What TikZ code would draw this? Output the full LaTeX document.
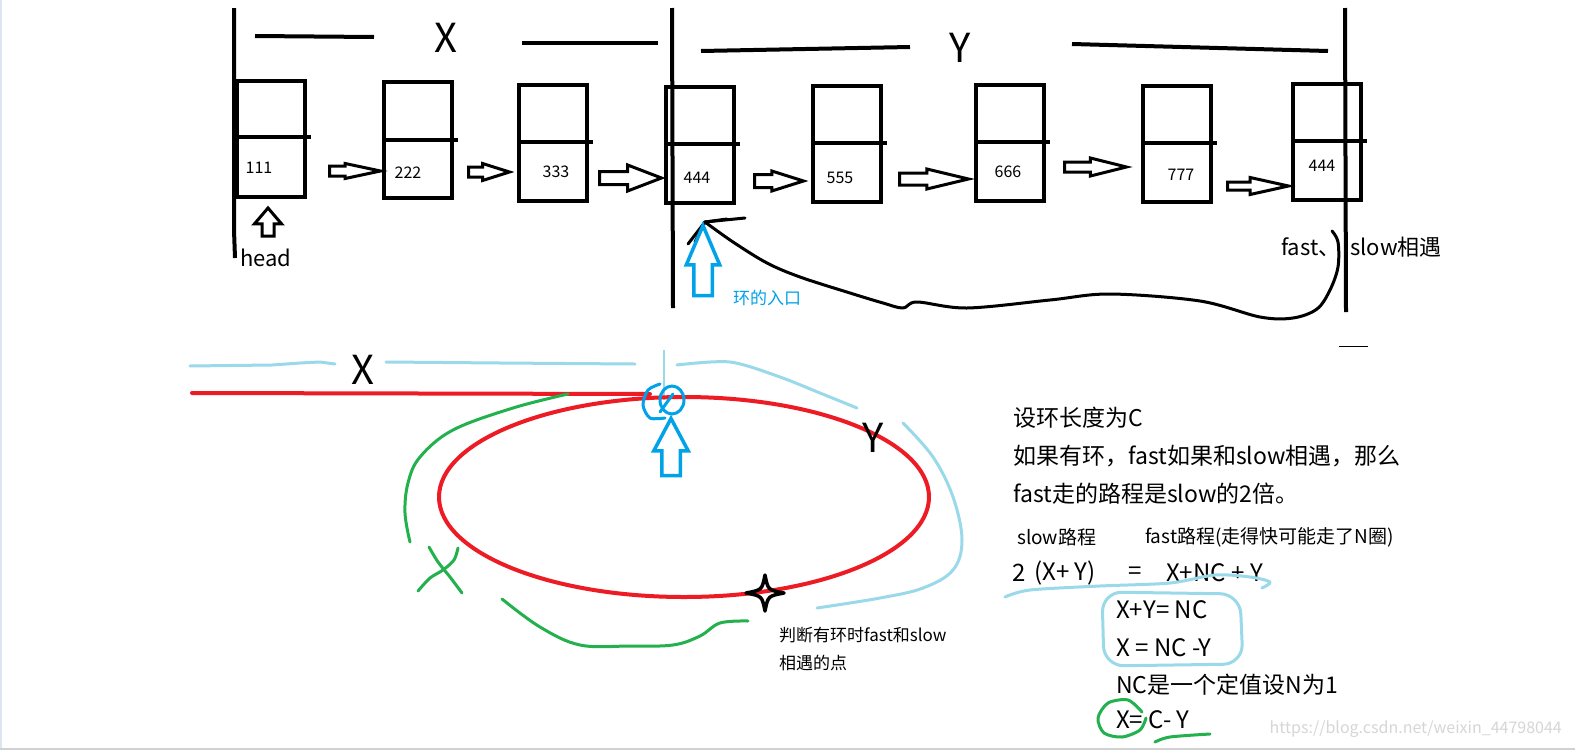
\documentclass[tikz,border=0pt]{standalone}
\usepackage{fontspec}
\setmainfont{Noto Sans CJK SC}
\usetikzlibrary{shapes.geometric,shapes.arrows}
\definecolor{pred}{HTML}{ED1C24}
\definecolor{pgreen}{HTML}{22B14C}
\definecolor{pblue}{HTML}{00A2E8}
\definecolor{plblue}{HTML}{99D9EA}
\definecolor{wmark}{HTML}{D6D6D6}
\definecolor{edgel}{HTML}{DCE6F2}
\newcommand\myfs[1]{\fontsize{#1}{#1}\selectfont}
\newcommand\harrow[9]{%
  \node[harrowst, #9, minimum height=#4pt, inner sep={#5*0.5pt},
        single arrow head extend={(#6-#5)*0.5pt}, single arrow tip angle=#7,
        shape border rotate=#8, anchor=tail] (#1) at (#2,#3) {};}
\tikzset{
  listbox/.style={draw, line width=4pt, inner sep=0pt, minimum width=68pt, minimum height=116pt},
  divider/.style={line width=4pt},
  numtxt/.style={font=\myfs{16}, inner sep=0pt},
  harrowst/.style={single arrow, draw, line width=3pt, outer sep=0pt},
  bigtxt/.style={font=\myfs{40}, inner sep=0pt},
  midtxt/.style={font=\myfs{22}, inner sep=0pt, anchor=west},
  rtxt/.style={font=\myfs{23}, inner sep=0pt, anchor=west},
  smalltxt/.style={font=\myfs{17}, inner sep=0pt, anchor=west},
  eqtxt/.style={font=\myfs{24}, inner sep=0pt, anchor=west},
  blk/.style={line width=4pt},
  loopline/.style={line width=3pt, line cap=round, line join=round},
  redl/.style={pred, line width=4pt, line cap=round},
  lbl/.style={plblue, line width=3pt, line cap=round, line join=round},
  grn/.style={pgreen, line width=3pt, line cap=round, line join=round},
}
\begin{document}
\begin{tikzpicture}[x=1pt,y=-1pt]
\useasboundingbox (0,0) rectangle (1575,750);
\fill[white] (0,0) rectangle (1575,750);
\fill[edgel] (0,0) rectangle (2,750);
\fill[black!18] (0,748) rectangle (1575,750);

% ---------- top: section markers ----------
\draw[blk] (234,8) -- (234,230) -- (235,258);
\draw[blk] (672,8) -- (673,308);
\draw[blk] (1345,8) -- (1346,312);
\draw[blk] (255,36) -- (374,37);
\draw[blk] (522,43) -- (658,43);
\draw[blk] (701,51) -- (910,47);
\draw[blk] (1072,44) -- (1328,51);
\node[bigtxt] (xtop) at (446,38) {X};
\node[bigtxt] (ytop) at (960,48) {Y};
\draw[line width=1pt] (1339,346) -- (1368,346);

% ---------- list nodes ----------
\node[listbox] (b1) at (271,139) {};
\node[listbox] (b2) at (418,140) {};
\node[listbox] (b3) at (553,143) {};
\node[listbox] (b4) at (700,145) {};
\node[listbox] (b5) at (847,143.5) {};
\node[listbox] (b6) at (1010,142.5) {};
\node[listbox] (b7) at (1177,143.5) {};
\node[listbox] (b8) at (1327,141.5) {};
\draw[divider] (b1.west |- 0,137) -- ([xshift=4pt]b1.east |- 0,137);
\draw[divider] (b2.west |- 0,140) -- ([xshift=4pt]b2.east |- 0,140);
\draw[divider] (b3.west |- 0,142) -- ([xshift=4pt]b3.east |- 0,142);
\draw[divider] (b4.west |- 0,144) -- ([xshift=4pt]b4.east |- 0,144);
\draw[divider] (b5.west |- 0,143) -- ([xshift=4pt]b5.east |- 0,143);
\draw[divider] (b6.west |- 0,142) -- ([xshift=4pt]b6.east |- 0,142);
\draw[divider] (b7.west |- 0,143) -- ([xshift=4pt]b7.east |- 0,143);
\draw[divider] (b8.west |- 0,141) -- ([xshift=4pt]b8.east |- 0,141);
\node[numtxt] (t1) at (259,168) {111};
\node[numtxt] (t2) at (408,173) {222};
\node[numtxt] (t3) at (556,172) {333};
\node[numtxt] (t4) at (697,178) {444};
\node[numtxt] (t5) at (840,178) {555};
\node[numtxt] (t6) at (1008,172) {666};
\node[numtxt] (t7) at (1181,175) {777};
\node[numtxt] (t8) at (1322,166) {444};

% ---------- hollow arrows between nodes ----------
\harrow{a1}{329.5}{171}{51}{7}{12}{24}{0}{}
\harrow{a2}{468.5}{172}{41}{7}{14}{35}{0}{}
\harrow{a3}{599.5}{178}{62}{10}{23}{42}{0}{}
\harrow{a4}{754.5}{181}{49}{10}{17}{35}{0}{}
\harrow{a5}{899.5}{179}{69}{9}{17}{27}{0}{}
\harrow{a6}{1064.5}{167}{62}{7}{15}{28}{0}{}
\harrow{a7}{1227.5}{186}{61}{5}{14}{25}{0}{}
\harrow{ahead}{268}{236}{28}{9}{24}{81}{90}{}
\node[midtxt] (headt) at (240,258) {head};

% ---------- loop back ----------
\coordinate (lstart) at (1332,231);
\coordinate (lend) at (705,222);
\draw[loopline] plot[smooth, tension=0.55] coordinates {(lstart) (1338,242) (1338,267) (1330,290) (1317,309) (1293,318) (1260,317) (1200,301) (1110,294) (1050,300) (967,308) (917,302) (903,308) (883,303) (850,293) (800,277) (767,263) (733,242) (lend)};
\draw[loopline] (lend) -- ++(40,-4);
\draw[loopline] (lend) -- ++(-17,22);
\draw[loopline] (lend) -- ++(-10,20);
\draw[loopline] (lend) -- ++(22,-3);
\harrow{aentry}{703}{295.5}{70}{15}{30}{46}{90}{draw=pblue, line width=3.5pt}
\node[smalltxt, text=pblue] (entryt) at (733,298) {环的入口};
\node[midtxt] (meet1) at (1281,247) {fast、};
\node[midtxt] (meet2) at (1350,247) {slow相遇};

% ---------- bottom: ring ----------
\draw[lbl] (190,366) -- (272,365) -- (300,363) -- (320,362) -- (335,364);
\draw[lbl] (386,362) -- (500,363) -- (635,364);
\node[bigtxt] (xbot) at (363,370) {X};
\draw[plblue, line width=2.5pt] (664,350) -- (664,400);
\node[ellipse, draw=pred, line width=4pt, minimum width=490pt, minimum height=200pt, inner sep=0pt] (ring) at (684,497) {};
\coordinate (tailstart) at (192,393);
\draw[redl] (tailstart) -- (650,394);
\draw[lbl] plot[smooth] coordinates {(677,365) (730,362) (780,377) (820,393) (857,408)};
\node[bigtxt] (ybot) at (873,438) {Y};
\draw[lbl] plot[smooth, tension=0.6] coordinates {(903,423) (933,457) (953,497) (962,540) (953,570) (923,588) (880,598) (817,608)};
% green X path
\draw[grn] plot[smooth, tension=0.6] coordinates {(568,394) (513,408) (453,430) (420,457) (408,483) (405,513) (410,542)};
\draw[grn] plot[smooth] coordinates {(429,547) (438,562) (450,577) (462,593)};
\draw[grn] plot[smooth] coordinates {(458,548) (454,560) (443,570) (430,578) (418,591)};
\draw[grn] plot[smooth, tension=0.6] coordinates {(502,599) (540,627) (580,645) (630,646) (673,645) (700,636) (720,623) (748,621)};
% blue scribble + entry arrow
\draw[pblue, line width=3pt] (672,400) ellipse [x radius=12, y radius=14];
\draw[pblue, line width=3pt, line cap=round] plot[smooth] coordinates {(660,384) (648,390) (643,405) (650,418) (665,418)};
\draw[pblue, line width=3pt, line cap=round] (660,412) -- (673,394);
\harrow{aring}{671}{475.5}{57}{15}{31}{56}{90}{draw=pblue, line width=3.5pt}
% meeting point star
\coordinate (meet) at (765,593);
\draw[line width=3.5pt, line join=round] (765,575) .. controls (768,590) .. (784,593) .. controls (768,596) .. (765,611) .. controls (762,596) .. (746,593) .. controls (762,590) .. (765,575) -- cycle;
\node[smalltxt] (meett1) at (779,635) {判断有环时fast和slow};
\node[smalltxt] (meett2) at (779,663) {相遇的点};

% ---------- derivation ----------
\node[rtxt] (d1) at (1013,418) {设环长度为C};
\node[rtxt] (d2) at (1013,456) {如果有环，fast如果和slow相遇，那么};
\node[rtxt] (d3) at (1013,494) {fast走的路程是slow的2倍。};
\node[font=\myfs{19}, inner sep=0pt, anchor=west] (d4) at (1017,537) {slow路程};
\node[font=\myfs{19}, inner sep=0pt, anchor=west] (d5) at (1145,537) {fast路程(走得快可能走了N圈)};
\node[eqtxt] (e1) at (1012,573) {2};
\node[eqtxt] (e2) at (1034,573) {(X+ Y)};
\node[eqtxt] (e3) at (1128,573) {=};
\node[eqtxt] (e4) at (1166,573) {X+NC + Y};
\draw[lbl] plot[smooth] coordinates {(1005,597) (1030,590) (1100,586) (1170,583) (1215,575) (1250,577) (1270,582) (1262,588)};
\draw[lbl] (1102,592) [rounded corners=20pt] -- (1240,594) -- (1243,664) -- (1104,666) -- cycle;
\node[eqtxt] (e5) at (1116,610) {X+Y= NC};
\node[eqtxt] (e6) at (1116,648) {X = NC -Y};
\node[rtxt] (e7) at (1116,685) {NC是一个定值设N为1};
\node[eqtxt] (e8) at (1116,720) {X= C- Y};
\draw[grn] plot[smooth] coordinates {(1142,712) (1128,700) (1108,703) (1098,718) (1104,733) (1122,737) (1140,730) (1146,718)};
\draw[grn] plot[smooth] coordinates {(1155,742) (1170,737) (1210,734)};
\node[font=\myfs{16}, text=wmark, inner sep=0pt, anchor=east] (wm) at (1562,729) {https://blog.csdn.net/weixin\_44798044};
\end{tikzpicture}
\end{document}
